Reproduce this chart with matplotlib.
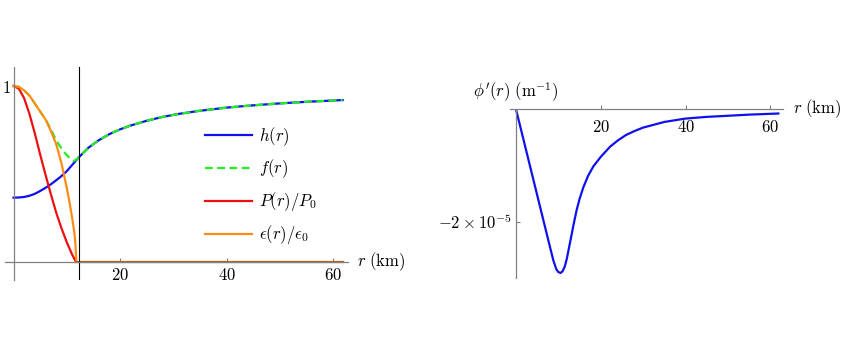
import matplotlib
matplotlib.use("Agg")
import matplotlib.pyplot as plt

plt.rcParams["mathtext.fontset"] = "cm"
plt.rcParams["font.family"] = "DejaVu Serif"

# ---- left panel: metric functions and fluid profile
r_P = [0, 1, 2, 3, 4, 5, 6, 7, 8, 9, 10, 11, 11.7]
P_rel = [1.0, 0.985, 0.93, 0.84, 0.73, 0.61, 0.495, 0.385, 0.28, 0.19, 0.11, 0.04, 0.0]

r_eps = [0, 1, 2, 3, 4, 5, 6, 7, 8, 9, 10, 10.5, 11, 11.4, 11.6, 11.8]
eps_rel = [1.0, 0.995, 0.975, 0.945, 0.90, 0.855, 0.81, 0.745, 0.67, 0.56,
           0.42, 0.34, 0.25, 0.17, 0.11, 0.0]

r_zero = [11.8, 61.8]
zero_out = [0.0, 0.0]

r_h = [0, 1, 2, 3, 4, 5, 6, 7, 8, 9, 10, 11, 12, 12.3,
       14, 16, 18, 20, 22, 25, 28, 31, 35, 40, 45, 50, 55, 61.8]
h_val = [0.364, 0.365, 0.368, 0.375, 0.386, 0.402, 0.42, 0.44, 0.463, 0.487,
         0.515, 0.55, 0.585, 0.595,
         0.647, 0.691, 0.726, 0.753, 0.775, 0.802, 0.824, 0.841, 0.859,
         0.877, 0.890, 0.901, 0.910, 0.920]

r_f = [0, 1, 2, 3, 4, 5, 6, 7, 8, 9, 9.7, 10.5, 11.3, 11.8, 12.3,
       14, 16, 18, 20, 22, 25, 28, 31, 35, 40, 45, 50, 55, 61.8]
f_val = [1.0, 0.995, 0.975, 0.945, 0.90, 0.855, 0.81, 0.755, 0.69, 0.645,
         0.617, 0.59, 0.573, 0.58, 0.595,
         0.647, 0.691, 0.726, 0.753, 0.775, 0.802, 0.824, 0.841, 0.859,
         0.877, 0.890, 0.901, 0.910, 0.920]

R_star = 12.3

# ---- right panel: scalar field gradient, units of 1e-5 m^-1
r_phi = [0, 1, 2, 3, 4, 5, 6, 7, 8, 8.8, 9.5, 10.0, 10.55, 11.0, 11.5, 12.0,
         12.5, 13.0, 13.6, 14.3, 15.0, 15.9, 17, 18.25, 20, 22.2, 24, 26, 28, 30,
         35, 40, 45, 50, 55, 61.9]
dphi = [0, -0.305, -0.61, -0.915, -1.22, -1.525, -1.83, -2.135, -2.44, -2.68,
        -2.84, -2.895, -2.91, -2.88, -2.80, -2.66,
        -2.47, -2.28, -2.05, -1.80, -1.60, -1.39, -1.19, -1.02, -0.85, -0.67,
        -0.56, -0.46, -0.39, -0.33, -0.23, -0.17, -0.14, -0.12, -0.10, -0.08]

axcol = "#808080"
fs = 12

def mm_axes(ax):
    # Mathematica-like axes through the origin
    for s in ["top", "right"]:
        ax.spines[s].set_visible(False)
    ax.spines["left"].set_position(("data", 0))
    ax.spines["bottom"].set_position(("data", 0))
    for s in ["left", "bottom"]:
        ax.spines[s].set_color(axcol)
        ax.spines[s].set_linewidth(0.9)
    ax.tick_params(axis="x", direction="in", length=3, width=0.8,
                   color=axcol, pad=4, labelsize=fs)
    ax.tick_params(axis="y", direction="in", length=3, width=0.8,
                   color=axcol, pad=2, labelsize=fs)

fig = plt.figure(figsize=(8.43, 3.58), dpi=100)

ax1 = fig.add_axes([5/843, 78/358, 343/843, 213.3/358])
mm_axes(ax1)
ax1.plot(r_h, h_val, color="#1010ee", lw=1.6, label=r"$h(r)$")
ax1.plot(r_f, f_val, color="#22ee22", lw=1.6, ls=(0, (3.5, 2.0)), label=r"$f(r)$")
ax1.plot(r_P, P_rel, color="#ee1010", lw=1.6, label=r"$P(r)/P_0$")
ax1.plot(r_eps, eps_rel, color="#ff8c14", lw=1.6, label=r"$\epsilon(r)/\epsilon_0$")
ax1.plot(r_zero, zero_out, color="#b8601a", lw=1.6)
ax1.axvline(R_star, color="k", lw=0.8)
ax1.set_xlim(-1.6, 62.8)
ax1.set_ylim(-0.105, 1.11)
ax1.set_xticks([20, 40, 60], labels=["$20$", "$40$", "$60$"])
ax1.set_yticks([1], labels=["$1$"])
ax1.text(1.025, 0.086, r"$r\ (\mathrm{km})$", transform=ax1.transAxes,
         fontsize=fs, va="center", ha="left")
ax1.legend(loc="upper left", bbox_to_anchor=(205/843, 1 - 125/358),
           bbox_transform=fig.transFigure, frameon=False, fontsize=fs,
           handlelength=2.8, handletextpad=0.45, labelspacing=0.6,
           borderpad=0, borderaxespad=0)

ax2 = fig.add_axes([510/843, 80/358, 273/843, 169/358])
mm_axes(ax2)
ax2.plot(r_phi, dphi, color="#1010ee", lw=1.6)
ax2.set_xlim(-1.4, 63.0)
ax2.set_ylim(-3.0, 0)
ax2.set_xticks([20, 40, 60], labels=["$20$", "$40$", "$60$"])
ax2.set_yticks([-2], labels=[r"$-2\times10^{-5}$"])
ax2.tick_params(axis="x", pad=7)
ax2.tick_params(axis="y", pad=3)
ax2.text(1.035, 1.0, r"$r\ (\mathrm{km})$", transform=ax2.transAxes,
         fontsize=fs, va="center", ha="left")
ax2.text(0.02, 1.1, r"$\phi'(r)\ (\mathrm{m}^{-1})$", transform=ax2.transAxes,
         fontsize=fs, va="center", ha="center")

fig.savefig("out.png", dpi=100)
